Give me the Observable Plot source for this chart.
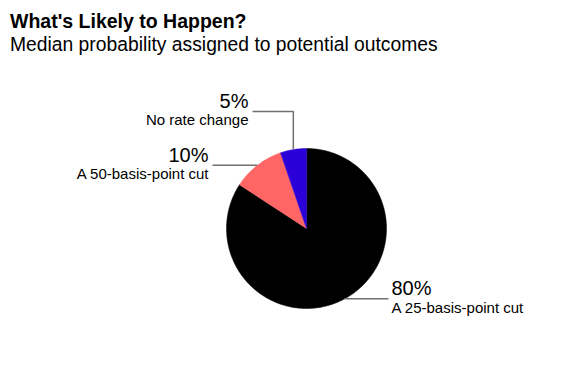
<!DOCTYPE html>
<html>
<head>
<meta charset="utf-8">
<script src="https://cdn.jsdelivr.net/npm/d3@7"></script>
<script src="https://cdn.jsdelivr.net/npm/@observablehq/plot@0.6"></script>
<style>
  html, body { margin: 0; padding: 0; background: #fff; }
  body { width: 583px; height: 365px; overflow: hidden; font-family: "Liberation Sans", Arial, sans-serif; color: #000; }
  #header { height: 60px; box-sizing: border-box; padding: 10px 0 0 10px; }
  #title { font-weight: 700; font-size: 19.5px; line-height: 22px; }
  #subtitle { font-size: 19.3px; line-height: 21px; margin-top: 2px; }
</style>
</head>
<body>
<div id="header">
  <div id="title">What's Likely to Happen?</div>
  <div id="subtitle">Median probability assigned to potential outcomes</div>
</div>
<div id="chart"></div>
<script>
// ---- data ----
const outcomes = ["A 25-basis-point cut", "A 50-basis-point cut", "No rate change"];
const probabilities = [80, 10, 5];
const colors = ["#000000", "#ff6565", "#2b00d8"];

// ---- layout (pixels / radius units) ----
const W = 583, H = 305;
const R = 80;            // pie radius in px
const CX = 306, CY = 168; // pie centre in svg px
// leader routing, in radius units relative to the pie centre
const leaderLayout = [
  {elbowY: null, endX: 1.025, side: "right"},
  {elbowY: null, endX: -1.175, side: "left"},
  {elbowY: 1.4625, endX: -0.675, side: "left"}
];

const rows = outcomes.map((o, i) => ({outcome: o, value: probabilities[i], color: colors[i], i}));
const arcs = d3.pie().sort(null).value(d => d.value)(rows);

const toXY = (a, r) => [r * Math.sin(a), r * Math.cos(a)];

// slice polygons
const slicePts = [];
arcs.forEach(a => {
  slicePts.push({key: a.data.outcome, color: a.data.color, x: 0, y: 0});
  const n = Math.max(2, Math.ceil((a.endAngle - a.startAngle) / (Math.PI / 180)));
  for (let k = 0; k <= n; k++) {
    const t = a.startAngle + (a.endAngle - a.startAngle) * k / n;
    const [x, y] = toXY(t, 1);
    slicePts.push({key: a.data.outcome, color: a.data.color, x, y});
  }
});

// leaders and labels
const leaderPts = [];
const labels = [];
arcs.forEach((a, i) => {
  const L = leaderLayout[i];
  const mid = (a.startAngle + a.endAngle) / 2;
  const [sx, sy] = toXY(mid, 1.0);
  leaderPts.push({key: a.data.outcome, x: sx, y: sy});
  let ly = sy;
  if (L.elbowY != null) { ly = L.elbowY; leaderPts.push({key: a.data.outcome, x: sx, y: ly}); }
  leaderPts.push({key: a.data.outcome, x: L.endX, y: ly});
  labels.push({x: L.endX, y: ly, side: L.side, pct: a.data.value + "%", name: a.data.outcome});
});
const rightLabels = labels.filter(d => d.side === "right");
const leftLabels = labels.filter(d => d.side === "left");

const xDomain = [-CX / R, (W - CX) / R];
const yDomain = [-(H - CY) / R, CY / R];

const pctStyle = {x: "x", y: "y", text: "pct", fontSize: 20, dy: -10, fill: "#000"};
const nameStyle = {x: "x", y: "y", text: "name", fontSize: 15, dy: 9, fill: "#000"};

const chart = Plot.plot({
  width: W,
  height: H,
  margin: 0,
  x: {domain: xDomain, axis: null},
  y: {domain: yDomain, axis: null},
  style: {fontFamily: "'Liberation Sans', Arial, sans-serif", background: "#fff"},
  marks: [
    Plot.line(slicePts, {x: "x", y: "y", z: "key", fill: d => d.color, stroke: d => d.color, strokeWidth: 0.5, curve: "linear-closed"}),
    Plot.line(leaderPts, {x: "x", y: "y", z: "key", stroke: "#707070", strokeWidth: 1.5, strokeLinecap: "butt"}),
    Plot.text(rightLabels, {...pctStyle, dx: 3, textAnchor: "start"}),
    Plot.text(rightLabels, {...nameStyle, dx: 3, textAnchor: "start"}),
    Plot.text(leftLabels, {...pctStyle, dx: -4, textAnchor: "end"}),
    Plot.text(leftLabels, {...nameStyle, dx: -4, textAnchor: "end"})
  ]
});
document.getElementById("chart").appendChild(chart);
</script>
</body>
</html>
